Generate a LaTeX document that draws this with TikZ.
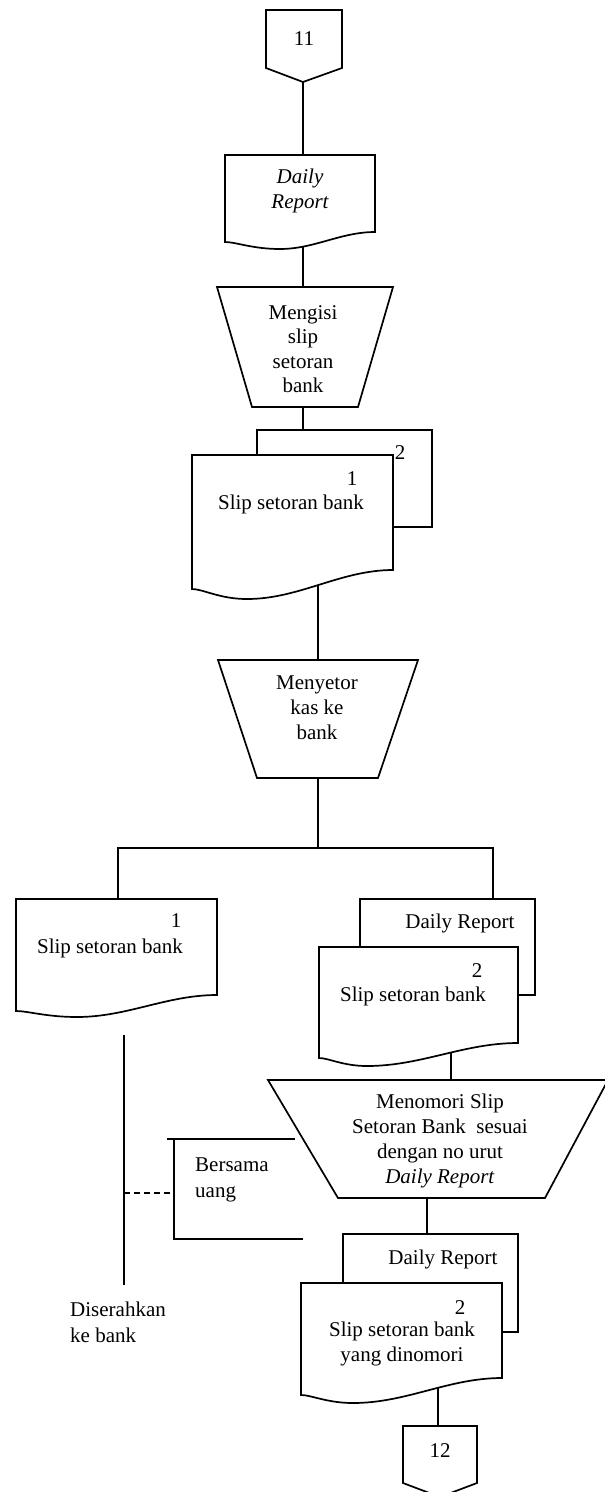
\documentclass[tikz,border=0pt]{standalone}
\usepackage{fontspec}
\setmainfont{Liberation Serif}

% document symbol: left, top, right, right-bottom, left-bottom, lowest x, lowest y
\newcommand{\docbody}[7]{%
  \draw[shapeline] (#1,#2) -- (#3,#2) -- (#3,#4)
    .. controls ({#3-0.36*(#3-#6)},#4) and ({#6+0.36*(#3-#6)},#7) .. (#6,#7)
    .. controls ({#6-0.5*(#6-#1)},#7) and ({#1+0.2*(#6-#1)},#5) .. (#1,#5) -- cycle;}
% second copy behind a document: back left, front top, back top, back right, back bottom, front right
\newcommand{\docback}[6]{%
  \draw[shapeline] (#1,#2) -- (#1,#3) -- (#4,#3) -- (#4,#5) -- (#6,#5);}
% manual operation: top left, top right, top y, bottom left, bottom right, bottom y
\newcommand{\manop}[6]{%
  \draw[shapeline] (#1,#3) -- (#2,#3) -- (#5,#6) -- (#4,#6) -- cycle;}

\tikzset{
  shapeline/.style={line width=1.7pt, line join=miter},
  link/.style={line width=1.2pt},
  lbl/.style={inner sep=0pt, align=center, font=\fontsize{21}{25}\selectfont},
  lblit/.style={lbl, font=\fontsize{21}{25}\selectfont\itshape},
  note/.style={inner sep=0pt, align=left, anchor=west, font=\fontsize{21}{26}\selectfont},
}

\begin{document}
\begin{tikzpicture}[x=1pt,y=-1pt]
\useasboundingbox (0,0) rectangle (605,1492);

% off-page connector 11
\draw[shapeline] (266,10) -- (342,10) -- (342,68) -- (303,82) -- (266,68) -- cycle;
\node[lbl] (c11) at (304,39) {11};
\coordinate (c11-out) at (303,82);

% Daily Report document
\docbody{225}{155}{375}{232}{242}{280}{249}
\node[lblit] (dr) at (300,191) {Daily\\Report};
\coordinate (dr-in) at (303,155);
\coordinate (dr-out) at (303,247);

% Mengisi slip setoran bank
\manop{217}{393}{287}{252}{358}{407}
\node[lbl, font=\fontsize{21}{24.5}\selectfont] (isi) at (303,349) {Mengisi\\slip\\setoran\\bank};
\coordinate (isi-in) at (303,287);
\coordinate (isi-out) at (303,407);

% slip setoran bank, copies 1 and 2
\docback{257}{455}{430}{432}{527}{393}
\docbody{192}{455}{393}{570}{589}{247}{599}
\node[lbl] (s1no) at (352,479) {1};
\node[lbl] (s1) at (291,504) {Slip setoran bank};
\node[lbl] (s1copy) at (400,453) {2};
\coordinate (s1-in) at (303,430);
\coordinate (s1-out) at (318,585);

% Menyetor kas ke bank
\manop{218}{418}{660}{257}{378}{778}
\node[lbl] (setor) at (317,708) {Menyetor\\kas ke\\bank};
\coordinate (setor-in) at (318,660);
\coordinate (setor-out) at (318,778);
\coordinate (split) at (318,848);
\coordinate (split-l) at (118,848);
\coordinate (split-r) at (493,848);

% left: slip 1
\docbody{16}{899}{217}{995}{1011}{77}{1017}
\node[lbl] (l1no) at (176,921) {1};
\node[lbl] (l1) at (110,948) {Slip setoran bank};
\coordinate (l1-in) at (118,899);

% right: daily report with slip 2
\docback{360}{947}{899}{535}{995}{518}
\docbody{319}{947}{518}{1043}{1058}{367}{1066}
\node[lbl] (r1dr) at (460,923) {Daily Report};
\node[lbl] (r1no) at (477,971) {2};
\node[lbl] (r1) at (413,996) {Slip setoran bank};
\coordinate (r1-in) at (493,899);
\coordinate (r1-out) at (451,1053);

% Menomori slip
\manop{268}{608}{1080}{338}{545}{1198}
\node[lbl, font=\fontsize{21}{24.7}\selectfont] (nomor) at (440,1141)
  {Menomori Slip\\Setoran Bank\ \ sesuai\\dengan no urut\\\textit{Daily Report}};
\coordinate (nomor-in) at (451,1080);
\coordinate (nomor-out) at (427,1198);

% annotation
\draw[link] (295,1139) -- (167,1139);
\draw[link] (174,1139) -- (174,1239) -- (303,1239);
\coordinate (ann) at (174,1193);
\node[note] (bersama) at (195,1180) {Bersama\\uang};

% line to the bank
\coordinate (bank-top) at (124,1035);
\coordinate (bank-bot) at (124,1285);
\coordinate (bank-mid) at (124,1193);
\draw[link] (bank-top) -- (bank-bot);
\node[note] (serah) at (70,1322) {Diserahkan\\ke bank};

% bottom: daily report with numbered slip 2
\docback{343}{1283}{1234}{518}{1332}{502}
\docbody{301}{1283}{502}{1378}{1395}{353}{1403}
\node[lbl] (r2dr) at (443,1259) {Daily Report};
\node[lbl] (r2no) at (460,1308) {2};
\node[lbl] (r2) at (402,1344) {Slip setoran bank\\yang dinomori};
\coordinate (r2-in) at (427,1234);
\coordinate (r2-out) at (438,1388);

% off-page connector 12
\draw[shapeline] (403,1426) -- (477,1426) -- (477,1483) -- (440,1497) -- (403,1483) -- cycle;
\node[lbl] (c12) at (440,1451) {12};
\coordinate (c12-in) at (438,1426);

% connectors
\draw[link] (c11-out) -- (dr-in);
\draw[link] (dr-out) -- (isi-in);
\draw[link] (isi-out) -- (s1-in);
\draw[link] (s1-out) -- (setor-in);
\draw[link] (setor-out) -- (split);
\draw[link] (l1-in) -- (split-l) -- (split-r) -- (r1-in);
\draw[link] (r1-out) -- (nomor-in);
\draw[link] (nomor-out) -- (r2-in);
\draw[link] (r2-out) -- (c12-in);
\draw[link, dash pattern=on 6pt off 4pt] (bank-mid) -- (ann);
\end{tikzpicture}
\end{document}
